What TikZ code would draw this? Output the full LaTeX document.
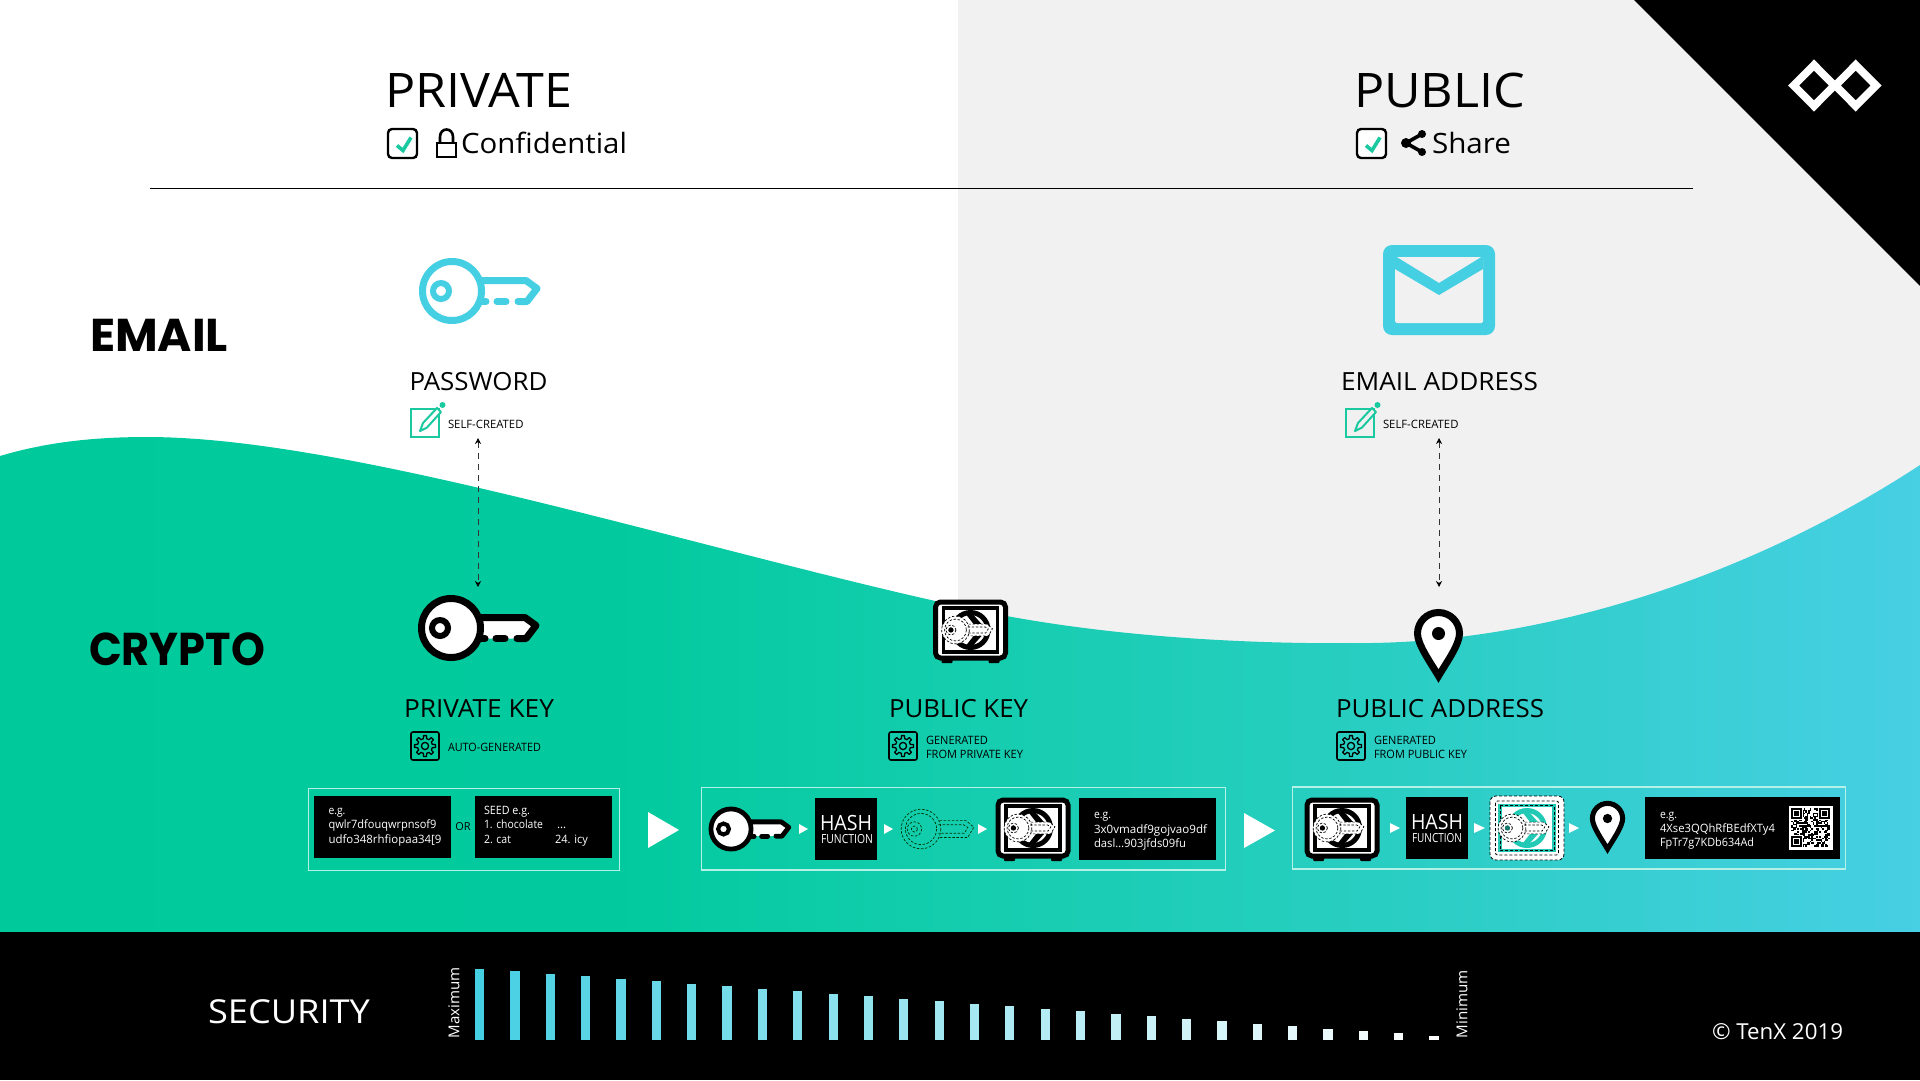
\documentclass[tikz,border=0pt]{standalone}
\usepackage{fontspec}
\usepackage{graphicx}
\usetikzlibrary{arrows.meta,calc}
\setmainfont{Open Sans}
\newfontfamily\popf{Poppins}
\definecolor{gA}{HTML}{00CA9C}
\definecolor{gB}{HTML}{02CA9E}
\definecolor{gC}{HTML}{14CDAE}
\definecolor{gD}{HTML}{2ACEC3}
\definecolor{gE}{HTML}{47CFE4}
\definecolor{lightbg}{HTML}{F1F1F1}
\definecolor{cyanicon}{HTML}{45CFE3}
\definecolor{greenicon}{HTML}{1BC9A0}
\definecolor{tealsafe}{HTML}{22C9B4}
\definecolor{framecol}{HTML}{B4F2E8}
\pgfdeclarehorizontalshading{wavefill}{100bp}{color(0bp)=(gA); color(25bp)=(gA); color(41bp)=(gB); color(50bp)=(gC); color(61.5bp)=(gD); color(75bp)=(gE); color(100bp)=(gE)}
\newcommand\fs[1]{\fontsize{#1}{#1}\selectfont}
\newcommand\W[2]{\resizebox{#1pt}{\height}{#2}}
\tikzset{
  tb/.style={inner sep=0pt,outer sep=0pt,anchor=base west,text=black},
  tw/.style={inner sep=0pt,outer sep=0pt,anchor=base west,text=white},
  blackbox/.style={fill=black,draw=none},
  framebox/.style={draw=framecol,line width=1.2pt,fill=none},
  bigarrow/.style={fill=white,draw=none},
  smallarrow/.style={fill=white,draw=none},
  dashconn/.style={draw=black!80,line width=.7pt,dash pattern=on 6pt off 5pt,{Stealth[length=6pt,width=6pt,black]}-{Stealth[length=6pt,width=6pt,black]}},
}
% key icon: x y scale stroke fill
\newcommand\keyicon[5]{%
\begin{scope}[shift={(#1,#2)},scale=#3]
\pgfmathsetlengthmacro\klw{7*#3}
\pgfmathsetlengthmacro\kdw{6*#3}
\path[fill=#5] (0,0) circle[radius=30];
\path[fill=#5] (25,-10.5) -- (74,-10.5) -- (85,-2.5) -- (75,10.5) -- (25,10.5) -- cycle;
\draw[#4,line width=\klw,line cap=round,line join=round] (28,-10.5) -- (74,-10.5) -- (85,-2.5) -- (75,10.5) -- (66,10.5);
\draw[#4,line width=\klw,line cap=round] (45,10.5) -- (54,10.5);
\draw[#4,line width=\klw,line cap=round] (30,10.5) -- (34,10.5);
\draw[#4,line width=\klw] (0,0) circle[radius=29.5];
\draw[#4,line width=\kdw] (-11,0) circle[radius=8];
\end{scope}}
% dashed key: x y scale colour fill
\newcommand\dashkey[5]{%
\begin{scope}[shift={(#1,#2)},scale=#3,every path/.append style={draw=#4,line width=.7pt,dash pattern=on 2.4pt off 1.7pt}]
\path[fill=#5,draw=none] (0,0) circle[radius=33];
\path[fill=#5,draw=none] (25,-14) -- (75,-14) -- (88,-3) -- (78,14) -- (25,14) -- cycle;
\draw (31,-14) -- (75,-14) -- (88,-3) -- (78,14) -- (31,14);
\draw (29,-7) -- (71,-7) -- (78,-2.5) -- (72,7) -- (29,7);
\draw (0,0) circle[radius=33];
\draw (0,0) circle[radius=26];
\draw (-11,0) circle[radius=12];
\draw (-11,0) circle[radius=5];
\end{scope}}
% safe icon
\newcommand\safeicon[2]{%
\begin{scope}[shift={(#1,#2)}]
\fill[black,rounded corners=1pt] (-29,28) rectangle (-18,33);
\fill[black,rounded corners=1pt] (18,28) rectangle (29,33);
\draw[black,fill=white,line width=5pt,rounded corners=5pt] (-35,-28) rectangle (35,28);
\draw[black,fill=white,line width=3.6pt] (-27,-22) rectangle (27,22);
\draw[black,line width=5pt] (0,0) circle[radius=17.5];
\fill[black] (-4,-15) -- (3,-15) -- (11,-6) -- (3,-6) -- cycle;
\fill[black] (-4,15) -- (3,15) -- (11,6) -- (3,6) -- cycle;
\dashkey{-15}{0}{.42}{black}{white}
\fill[black] (-19.6,0) circle[radius=2.6];
\end{scope}}
\newcommand\dashsafe[2]{%
\begin{scope}[shift={(#1,#2)}]
\draw[black,fill=white,line width=.8pt,dash pattern=on 3pt off 2pt,rounded corners=6pt] (-37,-32) rectangle (37,32);
\draw[black,line width=.8pt,dash pattern=on 3pt off 2pt,rounded corners=2pt] (-31.5,-27) rectangle (31.5,27);
\draw[tealsafe,line width=3.6pt] (-27,-22.5) rectangle (27,22.5);
\draw[black,line width=.7pt,dash pattern=on 3pt off 2pt] (-27,-22.5) rectangle (27,22.5);
\draw[tealsafe,line width=5pt] (0,0) circle[radius=17.5];
\fill[tealsafe] (-4,-15) -- (3,-15) -- (11,-6) -- (3,-6) -- cycle;
\fill[tealsafe] (-4,15) -- (3,15) -- (11,6) -- (3,6) -- cycle;
\dashkey{-15}{0}{.42}{black}{white}
\fill[tealsafe!60!black] (-19.6,0) circle[radius=2.6];
\end{scope}}
% pin: x y(circle centre) scale
\newcommand\pinicon[3]{%
\begin{scope}[shift={(#1,#2)},scale=#3]
\pgfmathsetlengthmacro\klw{7*#3}
\draw[black,fill=white,line width=\klw,miter limit=10] (-21,0) .. controls (-21,-11.6) and (-11.6,-21) .. (0,-21) .. controls (11.6,-21) and (21,-11.6) .. (21,0) .. controls (21,11) and (8,29) .. (0,42.5) .. controls (-8,29) and (-21,11) .. (-21,0) -- cycle;
\fill[black] (0,0) circle[radius=6.5];
\end{scope}}
\newcommand\gearicon[2]{%
\begin{scope}[shift={(#1,#2)}]
\draw[black,line width=1.6pt,rounded corners=2pt] (-14,-14) rectangle (14,14);
\draw[black,line width=1.3pt,line join=round] (-13:7.5)
 \foreach \ga in {0,45,...,315}{ -- (\ga-13:7.5) -- (\ga-8:10.5) -- (\ga+8:10.5) -- (\ga+13:7.5)} -- cycle;
\draw[black,line width=1.3pt] (0,0) circle[radius=3.6];
\end{scope}}
\newcommand\editicon[3]{%
\begin{scope}[shift={(#1,#2)}]
\draw[greenicon,line width=2pt] (0,0) rectangle (28,28);
\draw[greenicon,fill=#3,line width=2pt,line join=round] (9,22) -- (12,14) -- (26,-1) -- (30,3) -- (16,18.5) -- cycle;
\fill[greenicon] (31.5,-4) circle[radius=3];
\end{scope}}
\newcommand\checkicon[2]{%
\draw[black,fill=white,line width=2.4pt,rounded corners=4pt] (#1,#2) rectangle ++(29,29);
\draw[greenicon,line width=3.6pt] ($(#1,#2)+(9,16.5)$) -- ++(6,5) -- ++(8,-13);
}
\begin{document}
\begin{tikzpicture}[x=1pt,y=-1pt]
\useasboundingbox (0,0) rectangle (1920,1080);
\fill[white] (0,0) rectangle (1920,1080);
\fill[lightbg] (958,0) rectangle (1920,700);
\fill[black] (1634,0) -- (1920,0) -- (1920,286) -- cycle;
% wave
\shade[shading=wavefill] (0,456) .. controls (50,441) and (100,437) .. (147,437) .. controls (350,437) and (700,550) .. (958,606) .. controls (1080,634) and (1230,645) .. (1372,643) .. controls (1560,640) and (1760,570) .. (1920,465) -- (1920,932) -- (0,932) -- cycle;
\fill[black] (0,932) rectangle (1920,1080);
% logo
\draw[white,line width=7.8pt,miter limit=10] (1814,65) -- (1834.3,85.5) -- (1814,106) -- (1793.7,85.5) -- cycle;
\draw[white,line width=7.8pt,miter limit=10] (1855.7,65) -- (1876,85.5) -- (1855.7,106) -- (1835.4,85.5) -- cycle;
% header
\node[tb,font=\fs{47.6}] (private) at (385,107) {\W{187}{PRIVATE}};
\node[tb,font=\fs{47.6}] (public) at (1354,107) {\W{171}{PUBLIC}};
\checkicon{388}{129}
\checkicon{1357}{129}
\draw[black,line width=2.6pt] (437,143) rectangle (456,157);
\draw[black,line width=2.6pt] (440,143) -- (440,137) .. controls (440,127) and (453,127) .. (453,137) -- (453,143);
\node[tb,font=\fs{28}] (confid) at (461,153) {\W{166}{Confidential}};
\draw[black,line width=3.6pt] (1422,134) -- (1406,143) -- (1422,152);
\fill[black] (1406,143) circle[radius=5];
\fill[black] (1422,134) circle[radius=4];
\fill[black] (1422,152) circle[radius=4];
\node[tb,font=\fs{28}] (share) at (1432,153) {\W{79}{Share}};
\coordinate (ruleL) at (150,188);
\coordinate (ruleR) at (1693,188);
\draw[black,line width=1pt] (ruleL) -- (ruleR);
% left labels
\node[tb,font=\popf\bfseries\fs{46}] (email) at (90,351) {\W{138}{EMAIL}};
\node[tb,font=\popf\bfseries\fs{46}] (crypto) at (89,665) {\W{176}{CRYPTO}};
% email row
\keyicon{452}{291}{1}{cyanicon}{none}
\fill[cyanicon,rounded corners=9pt] (1383,245) rectangle (1495,335);
\fill[lightbg,rounded corners=1.5pt] (1395,257) rectangle (1483,323);
\fill[cyanicon] (1395,256) -- (1439,283) -- (1483,256) -- (1483,269) -- (1439,295) -- (1395,269) -- cycle;
\node[tb,font=\fs{25}] (password) at (409.5,390) {\W{138}{PASSWORD}};
\node[tb,font=\fs{25}] (emailaddr) at (1341,390) {\W{197}{EMAIL ADDRESS}};
\editicon{411}{409}{white}
\editicon{1346}{409}{lightbg}
\node[tb,font=\fs{11.5}] (self1) at (448,428) {\W{75.5}{SELF-CREATED}};
\node[tb,font=\fs{11.5}] (self2) at (1383,428) {\W{75.5}{SELF-CREATED}};
% connectors
\coordinate (passLow) at (478,438);
\coordinate (privTop) at (478,587);
\coordinate (mailLow) at (1439,438);
\coordinate (addrTop) at (1439,587);
\draw[dashconn] (passLow) -- (privTop);
\draw[dashconn] (mailLow) -- (addrTop);
% crypto row
\keyicon{451}{628}{1}{black}{white}
\safeicon{970.5}{630}
\pinicon{1438.5}{633.5}{1}
\node[tb,font=\fs{25}] (privkey) at (404,717) {\W{150}{PRIVATE KEY}};
\node[tb,font=\fs{25}] (pubkey) at (889,717) {\W{139}{PUBLIC KEY}};
\node[tb,font=\fs{25}] (pubaddr) at (1336,717) {\W{208}{PUBLIC ADDRESS}};
\gearicon{425}{746}
\gearicon{903}{746}
\gearicon{1351}{746}
\node[tb,font=\fs{11.5}] (auto) at (448,751) {\W{93}{AUTO-GENERATED}};
\node[tb,font=\fs{11.5}] (gen1) at (926,744) {\W{62}{GENERATED}};
\node[tb,font=\fs{11.5}] (gen2) at (926,758) {\W{97}{FROM PRIVATE KEY}};
\node[tb,font=\fs{11.5}] (gen3) at (1374,744) {\W{62}{GENERATED}};
\node[tb,font=\fs{11.5}] (gen4) at (1374,758) {\W{93}{FROM PUBLIC KEY}};
% process frames
\draw[framebox] (308.5,788.5) rectangle (619.5,870.5);
\draw[framebox] (701.5,787.5) rectangle (1225.5,870);
\draw[framebox] (1292.5,787) rectangle (1845.5,869);
\fill[bigarrow] (648,812) -- (679,830) -- (648,848) -- cycle;
\fill[bigarrow] (1244,813) -- (1275,830.5) -- (1244,848) -- cycle;
% frame 1
\fill[blackbox] (314,796) rectangle (450.5,858);
\fill[blackbox] (475,796) rectangle (612,858);
\node[tw,font=\fs{11.5}] (ex1a) at (328.5,814) {\W{17}{e.g.}};
\node[tw,font=\fs{11.5}] (ex1b) at (328.5,828.5) {\W{108}{qwlr7dfouqwrpnsof9}};
\node[tw,font=\fs{11.5}] (ex1c) at (328.5,843) {\W{113}{udfo348rhfiopaa34[9}};
\node[inner sep=0pt,text=black,font=\fs{11}] (orlbl) at (463,827) {OR};
\node[tw,font=\fs{11.5}] (s1) at (484,814) {\W{46}{SEED e.g.}};
\node[tw,font=\fs{11.5}] (s2) at (484,828.5) {\W{59}{1. chocolate}};
\node[tw,font=\fs{11.5}] (s3) at (484,843) {\W{27}{2. cat}};
\node[tw,font=\fs{11.5}] (s4) at (557,828.5) {…};
\node[tw,font=\fs{11.5}] (s5) at (555,843) {\W{33}{24. icy}};
% frame 2
\keyicon{731}{829}{.68}{black}{white}
\fill[smallarrow] (799,824) -- (808,829) -- (799,834) -- cycle;
\fill[blackbox] (815,798) rectangle (877,860);
\node[tw,font=\fs{21}] (h1) at (820,830) {\W{52}{HASH}};
\node[tw,font=\fs{12.5}] (f1) at (821,843) {\W{52}{FUNCTION}};
\fill[smallarrow] (884,824) -- (893,829) -- (884,834) -- cycle;
\dashkey{921}{829}{.6}{black!80!green}{none}
\fill[smallarrow] (978,824) -- (987,829) -- (978,834) -- cycle;
\safeicon{1033}{828}
\fill[blackbox] (1079,798) rectangle (1216,860);
\node[tw,font=\fs{11.5}] (p1) at (1094,818) {\W{17}{e.g.}};
\node[tw,font=\fs{11.5}] (p2) at (1094,833) {\W{113}{3x0vmadf9gojvao9df}};
\node[tw,font=\fs{11.5}] (p3) at (1094,847) {\W{92}{dasl…903jfds09fu}};
% frame 3
\safeicon{1342}{828}
\fill[smallarrow] (1390,823) -- (1400,828) -- (1390,833) -- cycle;
\fill[blackbox] (1406,797) rectangle (1468,859);
\node[tw,font=\fs{21}] (h2) at (1411,829) {\W{52}{HASH}};
\node[tw,font=\fs{12.5}] (f2) at (1412,842) {\W{50}{FUNCTION}};
\fill[smallarrow] (1474,823) -- (1485,828) -- (1474,833) -- cycle;
\dashsafe{1527}{828}
\fill[smallarrow] (1569,823) -- (1579,828) -- (1569,833) -- cycle;
\pinicon{1607.5}{818.5}{.72}
\fill[blackbox] (1645,797) rectangle (1840,859);
\node[tw,font=\fs{11.5}] (a1) at (1660,818) {\W{17}{e.g.}};
\node[tw,font=\fs{11.5}] (a2) at (1660,832) {\W{115}{4Xse3QQhRfBEdfXTy4}};
\node[tw,font=\fs{11.5}] (a3) at (1660,846) {\W{94}{FpTr7g7KDb634Ad}};
% QR
\begin{scope}[shift={(1788.5,805.5)}]
\fill[white] (0,0) rectangle (44,44);
\pgfmathsetseed{17}
\foreach \qi in {0,...,24}{\foreach \qj in {0,...,24}{
  \pgfmathtruncatemacro\qv{rnd>0.52?1:0}
  \ifnum\qv=1 \fill[black] (2.6+\qi*1.55,2.6+\qj*1.55) rectangle ++(1.6,1.6);\fi
}}
\foreach \qx/\qy in {2.6/2.6,30.5/2.6,2.6/30.5}{
  \fill[white] (\qx-1,\qy-1) rectangle ++(12.9,12.9);
  \draw[black,line width=1.5pt] (\qx+.8,\qy+.8) rectangle ++(9.3,9.3);
  \fill[black] (\qx+3.2,\qy+3.2) rectangle ++(4.5,4.5);
}
\end{scope}
% security
\node[tw,font=\fs{33}] (secur) at (208,1023) {\W{162}{SECURITY}};
\node[inner sep=0pt,rotate=90,text=white,font=\fs{15}] (maxl) at (454,1003) {\W{71}{Maximum}};
\node[inner sep=0pt,rotate=90,text=white,font=\fs{15}] (minl) at (1462,1004) {\W{68}{Minimum}};
\foreach \bi in {0,...,27}{
  \pgfmathtruncatemacro\barp{100-\bi*100/27}
  \pgfmathsetmacro\barx{475+\bi*35.35}
  \pgfmathsetmacro\bart{969+\bi*2.48}
  \fill[cyanicon!\barp!white] (\barx,\bart) rectangle (\barx+9.2,1040);
}
\node[tw,font=\fs{22}] (copyr) at (1712,1039) {\W{131}{© TenX 2019}};
\end{tikzpicture}
\end{document}
